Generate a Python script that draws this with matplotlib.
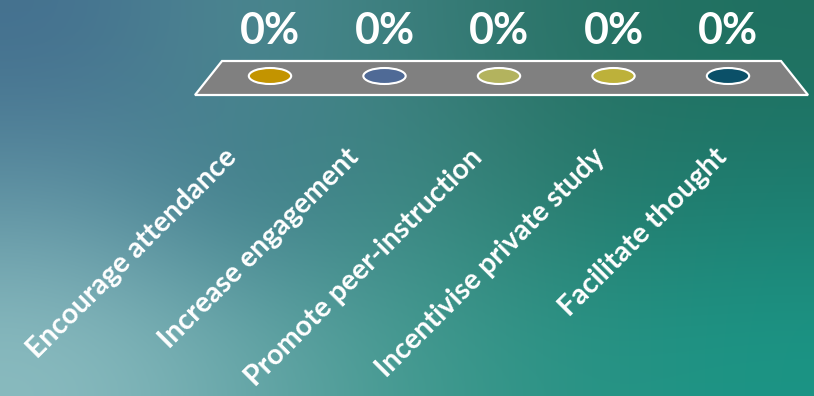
import numpy as np
import matplotlib
matplotlib.use("Agg")
import matplotlib.pyplot as plt
from matplotlib.patches import Ellipse, Polygon
from matplotlib.colors import to_rgb

categories = ["Encourage attendance", "Increase engagement", "Promote peer-instruction",
              "Incentivise private study", "Facilitate thought"]
values = [0, 0, 0, 0, 0]
value_labels = ["0%", "0%", "0%", "0%", "0%"]
bar_colors = ["#C39400", "#4F6A96", "#B3B35E", "#BDB13A", "#0B5068"]

fig = plt.figure(figsize=(8.14, 3.96), dpi=100)

# background gradient
bg = fig.add_axes([0, 0, 1, 1])
bg.set_axis_off()
stops = [
    ["#44708f", "#4e8a92", "#3b7e7d", "#2a7366", "#1f7060"],
    ["#5f93a3", "#3b7888", "#3f8a85", "#287a6c", "#1d7d70"],
    ["#8bbcc0", "#6aa8ab", "#449a90", "#2a9385", "#1b9585"],
]
grid = np.array([[to_rgb(c) for c in row] for row in stops])
bg.imshow(grid, aspect="auto", interpolation="bicubic", extent=[0, 1, 0, 1])
bg.set_xlim(0, 1)
bg.set_ylim(0, 1)

ax = fig.add_axes([0, 0, 1, 1])
ax.set_axis_off()
ax.patch.set_alpha(0)
ax.set_xlim(-2.358, 4.751)
ax.set_ylim(-3.20, 0.76)

n = len(categories)
x = np.arange(n)

# floor
floor = Polygon([(-0.419, 0.15), (4.463, 0.15), (4.699, -0.19), (-0.655, -0.19)],
                closed=True, facecolor="#808080", edgecolor="white", lw=1.6, zorder=2)
ax.add_patch(floor)

for i in range(n):
    e = Ellipse((x[i], values[i]), 0.37, 0.16, facecolor=bar_colors[i],
                edgecolor="white", lw=1.5, zorder=3)
    ax.add_patch(e)
    ax.text(x[i], values[i] + 0.45, value_labels[i], ha="center", va="center",
            color="white", fontsize=31, fontweight="bold", family="Lato", zorder=4)
    ax.text(x[i] - 0.33 + 0.072 * i, -0.77, categories[i], rotation=45,
            rotation_mode="anchor", ha="right", va="center", color="white",
            fontsize=20.5, fontweight="bold", family="Lato", zorder=4)

fig.savefig("out.png", dpi=100)
